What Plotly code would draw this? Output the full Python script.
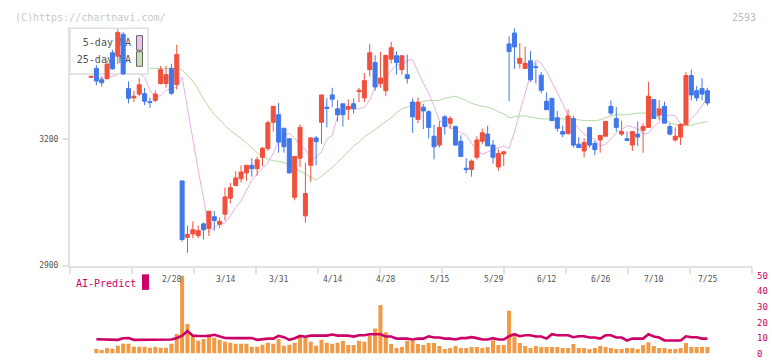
import numpy as np
import plotly.graph_objects as go

# ---------------- data ----------------
opens = [3347, 3368, 3341, 3344, 3405, 3397, 3449, 3320, 3298, 3307,
         3308, 3289, 3292, 3332, 3332, 3368, 3330, 3101, 2967, 2975,
         2971, 2999, 2988, 3016, 2998, 3022, 3060, 3090, 3106, 3120,
         3138, 3130, 3157, 3178, 3240, 3258, 3226, 3201, 3062, 3155,
         3018, 3138, 3203, 3240, 3276, 3305, 3272, 3284, 3271, 3284,
         3313, 3298, 3365, 3382, 3332, 3315, 3390, 3398, 3365, 3353,
         3288, 3247, 3276, 3265, 3207, 3186, 3253, 3238, 3230, 3195,
         3131, 3128, 3157, 3195, 3212, 3186, 3134, 3165, 3426, 3452,
         3380, 3368, 3386, 3372, 3352, 3290, 3297, 3251, 3218, 3213,
         3249, 3188, 3172, 3228, 3190, 3198, 3207, 3278, 3249, 3212,
         3201, 3186, 3212, 3221, 3228, 3294, 3257, 3278, 3230, 3198,
         3205, 3234, 3351, 3315, 3320, 3315]
highs = [3350, 3376, 3349, 3388, 3412, 3461, 3454, 3337, 3315, 3345,
         3322, 3299, 3315, 3374, 3374, 3379, 3424, 3101, 2995, 3005,
         2995, 3002, 3030, 3029, 3014, 3085, 3096, 3124, 3138, 3138,
         3155, 3158, 3182, 3244, 3279, 3286, 3226, 3201, 3159, 3235,
         3144, 3205, 3207, 3305, 3297, 3322, 3293, 3284, 3294, 3297,
         3322, 3357, 3426, 3399, 3407, 3399, 3431, 3408, 3399, 3401,
         3297, 3299, 3284, 3269, 3234, 3242, 3257, 3255, 3232, 3209,
         3155, 3152, 3207, 3225, 3232, 3198, 3176, 3172, 3444, 3463,
         3428, 3420, 3409, 3382, 3359, 3311, 3297, 3267, 3232, 3271,
         3255, 3205, 3202, 3228, 3197, 3209, 3244, 3292, 3276, 3244,
         3218, 3218, 3242, 3238, 3336, 3294, 3293, 3289, 3238, 3228,
         3238, 3359, 3365, 3326, 3345, 3322]
lows = [3346, 3328, 3325, 3341, 3365, 3378, 3352, 3285, 3288, 3302,
        3281, 3274, 3288, 3330, 3322, 3305, 3318, 2957, 2930, 2965,
        2965, 2962, 2970, 2983, 2989, 3007, 3048, 3088, 3097, 3101,
        3111, 3113, 3136, 3172, 3218, 3168, 3168, 3119, 3055, 3134,
        3002, 3099, 3138, 3189, 3228, 3276, 3242, 3230, 3245, 3261,
        3288, 3288, 3349, 3315, 3322, 3302, 3380, 3353, 3353, 3332,
        3215, 3238, 3224, 3202, 3152, 3180, 3211, 3225, 3185, 3159,
        3119, 3111, 3152, 3188, 3184, 3142, 3125, 3136, 3290, 3367,
        3368, 3368, 3336, 3332, 3309, 3270, 3244, 3218, 3205, 3211,
        3180, 3180, 3157, 3180, 3162, 3168, 3207, 3257, 3218, 3207,
        3195, 3172, 3184, 3168, 3228, 3249, 3245, 3238, 3209, 3194,
        3186, 3234, 3292, 3290, 3292, 3280]
closes = [3349, 3338, 3334, 3378, 3367, 3453, 3355, 3297, 3302, 3329,
          3290, 3287, 3307, 3365, 3353, 3309, 3401, 2962, 2974, 2985,
          2983, 2985, 3029, 3007, 3005, 3063, 3085, 3108, 3122, 3138,
          3130, 3151, 3178, 3239, 3278, 3193, 3182, 3120, 3159, 3228,
          3071, 3203, 3194, 3305, 3273, 3295, 3258, 3258, 3278, 3272,
          3316, 3339, 3405, 3324, 3345, 3399, 3417, 3382, 3398, 3344,
          3253, 3288, 3267, 3228, 3182, 3228, 3230, 3249, 3186, 3159,
          3128, 3148, 3198, 3215, 3184, 3157, 3166, 3170, 3408, 3419,
          3392, 3380, 3341, 3370, 3316, 3270, 3244, 3226, 3212, 3255,
          3186, 3180, 3192, 3186, 3175, 3209, 3242, 3262, 3228, 3218,
          3197, 3218, 3205, 3230, 3302, 3249, 3272, 3238, 3212, 3207,
          3235, 3351, 3305, 3298, 3307, 3286]
ma5 = [None, 3343, 3345, 3345, 3349, 3353, 3374, 3377, 3370, 3355,
       3347, 3315, 3301, 3303, 3316, 3320, 3324, 3347, 3278, 3200,
       3126, 3061, 2978, 2991, 2998, 3002, 3018, 3038, 3054, 3077,
       3103, 3117, 3130, 3144, 3167, 3195, 3208, 3214, 3202, 3186,
       3176, 3152, 3156, 3171, 3200, 3209, 3254, 3265, 3278, 3272,
       3272, 3276, 3293, 3322, 3331, 3346, 3362, 3378, 3373, 3388,
       3388, 3359, 3333, 3310, 3276, 3244, 3239, 3227, 3223, 3215,
       3210, 3190, 3174, 3164, 3170, 3175, 3180, 3184, 3178, 3217,
       3264, 3311, 3354, 3388, 3380, 3360, 3335, 3308, 3285, 3254,
       3241, 3225, 3212, 3205, 3200, 3184, 3188, 3201, 3215, 3223,
       3232, 3229, 3225, 3213, 3214, 3230, 3241, 3252, 3258, 3255,
       3236, 3233, 3249, 3262, 3279, 3299]
ma25 = [None, None, None, None, None, None, None, None, None, None,
        None, 3368, 3368, 3368, 3368, 3368, 3368, 3364, 3352, 3338,
        3318, 3295, 3276, 3258, 3246, 3232, 3221, 3212, 3202, 3191,
        3179, 3168, 3158, 3154, 3149, 3147, 3145, 3138, 3131, 3126,
        3117, 3110, 3103, 3112, 3122, 3133, 3145, 3158, 3172, 3184,
        3193, 3205, 3214, 3223, 3232, 3242, 3251, 3262, 3272, 3276,
        3281, 3285, 3290, 3292, 3292, 3292, 3297, 3299, 3302, 3297,
        3292, 3285, 3281, 3278, 3276, 3272, 3265, 3260, 3251, 3253,
        3255, 3255, 3253, 3251, 3248, 3248, 3248, 3248, 3248, 3248,
        3246, 3246, 3244, 3244, 3244, 3246, 3251, 3255, 3258, 3258,
        3258, 3260, 3262, 3262, 3262, 3258, 3251, 3246, 3239, 3235,
        3232, 3232, 3232, 3237, 3239, 3242]
volume = [None, 2.9, 2.3, 3.6, 3.1, 5.0, 6.3, 6.3, 4.4, 4.4,
          4.4, 3.8, 4.4, 3.8, 3.8, 6.3, 12.6, 50, 18.9, 11.9,
          8.2, 9.4, 12.6, 10.1, 8.8, 7.5, 6.9, 6.3, 6.3, 6.3,
          4.4, 4.4, 5.7, 6.9, 6.3, 9.4, 5.0, 5.7, 6.9, 10.7,
          10.7, 7.5, 5.0, 8.8, 6.9, 6.1, 6.9, 8.2, 5.5, 5.5,
          8.2, 7.5, 11.5, 16.1, 31.2, 13.6, 6.1, 3.6, 4.2, 8.2,
          8.2, 6.1, 5.5, 6.7, 6.7, 4.8, 2.9, 3.6, 4.8, 3.6,
          3.6, 4.2, 4.2, 3.6, 4.2, 8.6, 5.5, 5.5, 27.5, 11.1,
          6.7, 4.8, 3.6, 4.8, 4.2, 4.2, 4.2, 4.2, 3.6, 3.6,
          6.1, 3.6, 3.6, 2.9, 3.6, 4.8, 4.2, 3.6, 2.9, 2.9,
          3.6, 3.6, 2.9, 5.5, 7.3, 4.8, 3.6, 3.6, 2.9, 2.9,
          3.6, 6.7, 4.2, 4.2, 4.2, 4.2]
ai_predict = [None, 9.2, 9.0, 8.8, 8.8, 8.8, 9.8, 10.0, 8.8, 8.8,
              8.8, 8.8, 8.8, 8.8, 8.8, 9.0, 9.9, 11.5, 14.5, 11.5,
              11.3, 11.3, 11.3, 12.0, 11.0, 10.0, 9.9, 9.9, 10.3, 10.3,
              9.9, 8.8, 9.3, 9.6, 9.6, 11.3, 10.5, 8.8, 9.8, 11.3,
              10.8, 11.5, 11.5, 11.5, 11.5, 12.2, 11.5, 11.5, 11.5, 10.9,
              11.7, 11.7, 12.4, 12.4, 12.4, 10.9, 10.9, 9.6, 9.6, 9.6,
              9.0, 9.6, 9.6, 11.1, 10.3, 10.3, 9.6, 9.6, 9.0, 9.9,
              9.9, 10.5, 9.9, 9.0, 9.0, 9.9, 9.0, 9.0, 11.1, 12.4,
              11.1, 11.7, 11.7, 10.9, 10.9, 9.6, 12.4, 11.7, 11.7, 11.7,
              10.5, 11.1, 11.1, 10.3, 10.3, 9.6, 11.7, 11.7, 10.3, 10.3,
              8.4, 9.6, 9.6, 9.6, 12.4, 11.0, 10.3, 8.4, 8.4, 8.4,
              8.4, 11.1, 10.5, 10.5, 9.6, 9.6]
date_labels = ["2/28", "3/14", "3/31", "4/14", "4/28", "5/15",
               "5/29", "6/12", "6/26", "7/10", "7/25"]
date_label_index = [15, 25, 35, 45, 55, 65, 75, 85, 95, 105, 115]
price_ticks = [2900, 3200]
volume_ticks = [0, 10, 20, 30, 40, 50]
legend_names = ["5-day MA", "25-day MA"]

idx = list(range(len(closes)))

# ---------------- layout geometry (pixels) ----------------
W, H = 772, 361
LEFT, RIGHT = 70, 752
MAIN_TOP, MAIN_BOT = 23, 268
VOL_TOP, VOL_BOT = 278.3, 358.5
X0_PX, STEP_PX = 91.0, 5.36
PRICE_AT_BOT, PX_PER_UNIT = 2900, 130 / 300.0

def px(x):
    return x / W

def py(y):
    return 1 - y / H

x_range = [(LEFT - X0_PX) / STEP_PX, (RIGHT - X0_PX) / STEP_PX]
y_range = [PRICE_AT_BOT, PRICE_AT_BOT + (MAIN_BOT - MAIN_TOP) / PX_PER_UNIT]
x_dom = [px(LEFT), px(RIGHT)]
main_dom = [py(MAIN_BOT), py(MAIN_TOP)]
vol_dom = [py(VOL_BOT), py(VOL_TOP)]

RED = "#f0503c"
BLUE = "#4078ea"
PINK = "#e9aee9"
GREEN = "#b2d9a2"
AXIS = "#e2e2e2"
CRIMSON = "#cc0066"
MONO = "DejaVu Sans Mono"

fig = go.Figure()

# moving averages (drawn first, below legend box and candles)
fig.add_trace(go.Scatter(x=idx, y=ma5, mode="lines", line=dict(color=PINK, width=1),
                         xaxis="x", yaxis="y", hoverinfo="skip"))
fig.add_trace(go.Scatter(x=idx, y=ma25, mode="lines", line=dict(color=GREEN, width=1),
                         xaxis="x", yaxis="y", hoverinfo="skip"))

# legend frame on a pixel-coordinate overlay (hides lines, sits under candles)
fig.add_trace(go.Scatter(x=[70, 148, 148, 70, 70], y=[24, 24, 71, 71, 24], mode="lines",
                         fill="toself", fillcolor="white",
                         line=dict(color="#dcdcdc", width=1.5),
                         xaxis="x2", yaxis="y2", hoverinfo="skip"))
fig.add_trace(go.Scatter(x=[131, 131], y=[40, 57], mode="text", text=legend_names,
                         textposition="middle left",
                         textfont=dict(family=MONO, size=10, color="#555555"),
                         xaxis="x2", yaxis="y2", hoverinfo="skip"))

# candles
fig.add_trace(go.Candlestick(
    x=idx, open=opens, high=highs, low=lows, close=closes,
    increasing=dict(line=dict(color=RED, width=1), fillcolor=RED),
    decreasing=dict(line=dict(color=BLUE, width=1), fillcolor=BLUE),
    whiskerwidth=0, xaxis="x3", yaxis="y3", hoverinfo="skip"))

# bottom panel
fig.add_trace(go.Bar(x=idx, y=volume, marker=dict(color="#f19a45", line=dict(width=0)),
                     xaxis="x4", yaxis="y4", hoverinfo="skip"))
fig.add_trace(go.Scatter(x=idx, y=ai_predict, mode="lines",
                         line=dict(color=CRIMSON, width=2.6),
                         xaxis="x4", yaxis="y4", hoverinfo="skip"))

x_tickvals = list(np.linspace(x_range[0], x_range[1], 12))

fig.update_layout(
    width=W, height=H, autosize=False,
    margin=dict(l=0, r=0, t=0, b=0),
    paper_bgcolor="white", plot_bgcolor="rgba(0,0,0,0)",
    showlegend=False, bargap=0.25, boxgap=0.25, boxgroupgap=0,
    font=dict(family=MONO, size=8, color="#555555"),
    xaxis=dict(domain=x_dom, range=x_range, anchor="y", showline=True, linecolor=AXIS,
               linewidth=2, ticks="outside", tickvals=x_tickvals, ticklen=6, tickwidth=2,
               tickcolor=AXIS, showticklabels=False, showgrid=False, zeroline=False,
               rangeslider=dict(visible=False), fixedrange=True),
    yaxis=dict(domain=main_dom, range=y_range, anchor="x", showline=True, linecolor=AXIS,
               linewidth=2, ticks="outside", tickvals=price_ticks, ticklen=5, tickwidth=2,
               tickcolor=AXIS, tickfont=dict(family=MONO, size=8, color="#555555"),
               ticklabelstandoff=3, showgrid=False, zeroline=False, fixedrange=True),
    xaxis2=dict(overlaying="x", range=[LEFT, RIGHT], visible=False, fixedrange=True),
    yaxis2=dict(overlaying="y", range=[MAIN_BOT, MAIN_TOP], visible=False, fixedrange=True),
    xaxis3=dict(overlaying="x", range=x_range, visible=False, fixedrange=True,
                rangeslider=dict(visible=False)),
    yaxis3=dict(overlaying="y", range=y_range, visible=False, fixedrange=True),
    xaxis4=dict(domain=x_dom, range=x_range, anchor="y4", visible=False, fixedrange=True),
    yaxis4=dict(domain=vol_dom, range=[0, 50], anchor="x4", side="right", showline=False,
                showgrid=False, zeroline=False, tickvals=volume_ticks, ticks="",
                tickfont=dict(family=MONO, size=9, color="#c8005f"), ticklabelstandoff=4,
                fixedrange=True),
)

annotations = []
for lab, i in zip(date_labels, date_label_index):
    annotations.append(dict(x=i, y=py(282), xref="x", yref="paper", text=lab,
                            showarrow=False, xanchor="center", yanchor="middle",
                            font=dict(family=MONO, size=8, color="#555555")))
annotations.append(dict(x=px(13), y=py(12.5), xref="paper", yref="paper",
                        text="(C)https://chartnavi.com/", showarrow=False,
                        xanchor="left", yanchor="middle",
                        font=dict(family=MONO, size=10, color="#c8c8c8")))
annotations.append(dict(x=px(758), y=py(12.5), xref="paper", yref="paper",
                        text="2593", showarrow=False, xanchor="right", yanchor="middle",
                        font=dict(family=MONO, size=10, color="#bbbbbb")))
annotations.append(dict(x=px(74), y=py(286), xref="paper", yref="paper",
                        text="AI-Predict", showarrow=False, xanchor="left", yanchor="middle",
                        font=dict(family=MONO, size=10, color=CRIMSON)))
fig.update_layout(annotations=annotations)

shapes = [
    dict(type="rect", xref="paper", yref="paper", x0=px(142), x1=px(149),
         y0=py(293), y1=py(277), fillcolor=CRIMSON, line=dict(width=0)),
    dict(type="rect", xref="paper", yref="paper", x0=px(136.5), x1=px(142.5),
         y0=py(46.5), y1=py(31.5), fillcolor="#efc1ef", line=dict(color="#666666", width=1)),
    dict(type="rect", xref="paper", yref="paper", x0=px(136.5), x1=px(142.5),
         y0=py(63), y1=py(48), fillcolor="#c3e3b5", line=dict(color="#666666", width=1)),
]
fig.update_layout(shapes=shapes)

fig.write_html("out.html", config={"displayModeBar": False},
               post_script="document.body.style.margin='0';document.body.style.padding='0';")
